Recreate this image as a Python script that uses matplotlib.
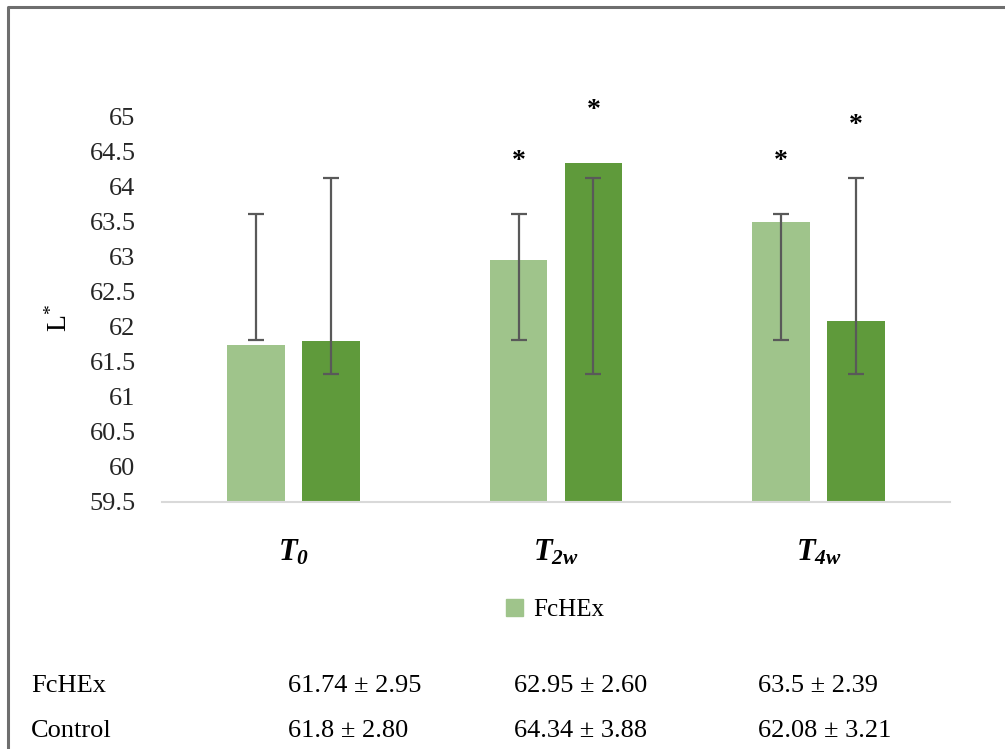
import numpy as np
import matplotlib
matplotlib.use("Agg")
import matplotlib.pyplot as plt
from matplotlib.patches import Patch
from matplotlib.lines import Line2D

plt.rcParams['font.family'] = ['Liberation Serif', 'DejaVu Serif']
plt.rcParams['mathtext.fontset'] = 'custom'
plt.rcParams['mathtext.rm'] = 'Liberation Serif'
plt.rcParams['mathtext.bf'] = 'Liberation Serif:italic:bold'

categories = [r'$\mathbf{T_{0}}$', r'$\mathbf{T_{2w}}$', r'$\mathbf{T_{4w}}$']
series_names = ['FcHEx', 'Control']
fchex_mean = [61.74, 62.95, 63.5]
fchex_sd = [2.95, 2.60, 2.39]
control_mean = [61.8, 64.34, 62.08]
control_sd = [2.80, 3.88, 3.21]
# error bars as drawn in the figure (same range for every group)
fchex_err = [61.82, 63.62]
control_err = [61.33, 64.13]
fchex_sig = [False, True, True]
control_sig = [False, True, True]
yticks = [59.5, 60, 60.5, 61, 61.5, 62, 62.5, 63, 63.5, 64, 64.5, 65]

light = '#9fc48b'
dark = '#5f9a3b'

fig = plt.figure(figsize=(10.05, 7.49), dpi=100)
ax = fig.add_axes([0.1612, 0.3298, 0.7841, 0.5140])

x = np.arange(len(categories))
w = 0.22
off = 0.1425
series = [(fchex_mean, fchex_err, fchex_sig, light, -off),
          (control_mean, control_err, control_sig, dark, off)]
for means, err, sig, col, dx in series:
    ax.bar(x + dx, means, width=w, color=col, zorder=2)
    mid = (err[0] + err[1]) / 2
    half = (err[1] - err[0]) / 2
    ax.errorbar(x + dx, [mid] * len(x), yerr=half, fmt='none', ecolor='#595959',
                elinewidth=1.6, capsize=6, capthick=1.6, zorder=3)
    for i, m in enumerate(means):
        if sig[i]:
            ax.text(x[i] + dx, max(m, err[1]) + 0.75, '*', ha='center', va='center',
                    fontsize=20, fontweight='bold', clip_on=False)

ax.set_ylim(59.5, 65)
ax.set_xlim(-0.5, 2.5)
ax.set_yticks(yticks)
ax.set_yticklabels([f'{t:g}' for t in yticks], fontsize=19, color='#262626')
ax.set_xticks(x)
ax.set_xticklabels(categories, fontsize=22)
ax.tick_params(axis='y', length=0, pad=19)
ax.tick_params(axis='x', length=0, pad=26)
for s in ['top', 'right', 'left']:
    ax.spines[s].set_visible(False)
ax.spines['bottom'].set_color('#d9d9d9')
ax.spines['bottom'].set_linewidth(1.5)

ax.set_ylabel(r'$\mathregular{L^{*}}$', fontsize=20)
ax.yaxis.set_label_coords(-0.114, 0.478)

fig.legend(handles=[Patch(color=light, label=series_names[0])], loc='center',
           bbox_to_anchor=(555 / 1005, 1 - 610 / 749), frameon=False, fontsize=18,
           handlelength=0.7, handleheight=0.7, handletextpad=0.4)

# table under the chart
row_y = [1 - 686 / 749, 1 - 731 / 749]
col_x = [288 / 1005, 514 / 1005, 758 / 1005]
for r, (name, means, sds) in enumerate([(series_names[0], fchex_mean, fchex_sd),
                                        (series_names[1], control_mean, control_sd)]):
    fig.text(31 / 1005, row_y[r], name, fontsize=19, va='center', ha='left')
    for c in range(len(means)):
        fig.text(col_x[c], row_y[r], f'{means[c]:g} ± {sds[c]:.2f}', fontsize=19,
                 va='center', ha='left')

# frame lines (left and top)
fig.add_artist(Line2D([8 / 1005, 8 / 1005, 1.0], [0.0, 1 - 7 / 749, 1 - 7 / 749],
                      color='#6e6e6e', lw=2.2, transform=fig.transFigure))

fig.savefig('out.png', dpi=100)
